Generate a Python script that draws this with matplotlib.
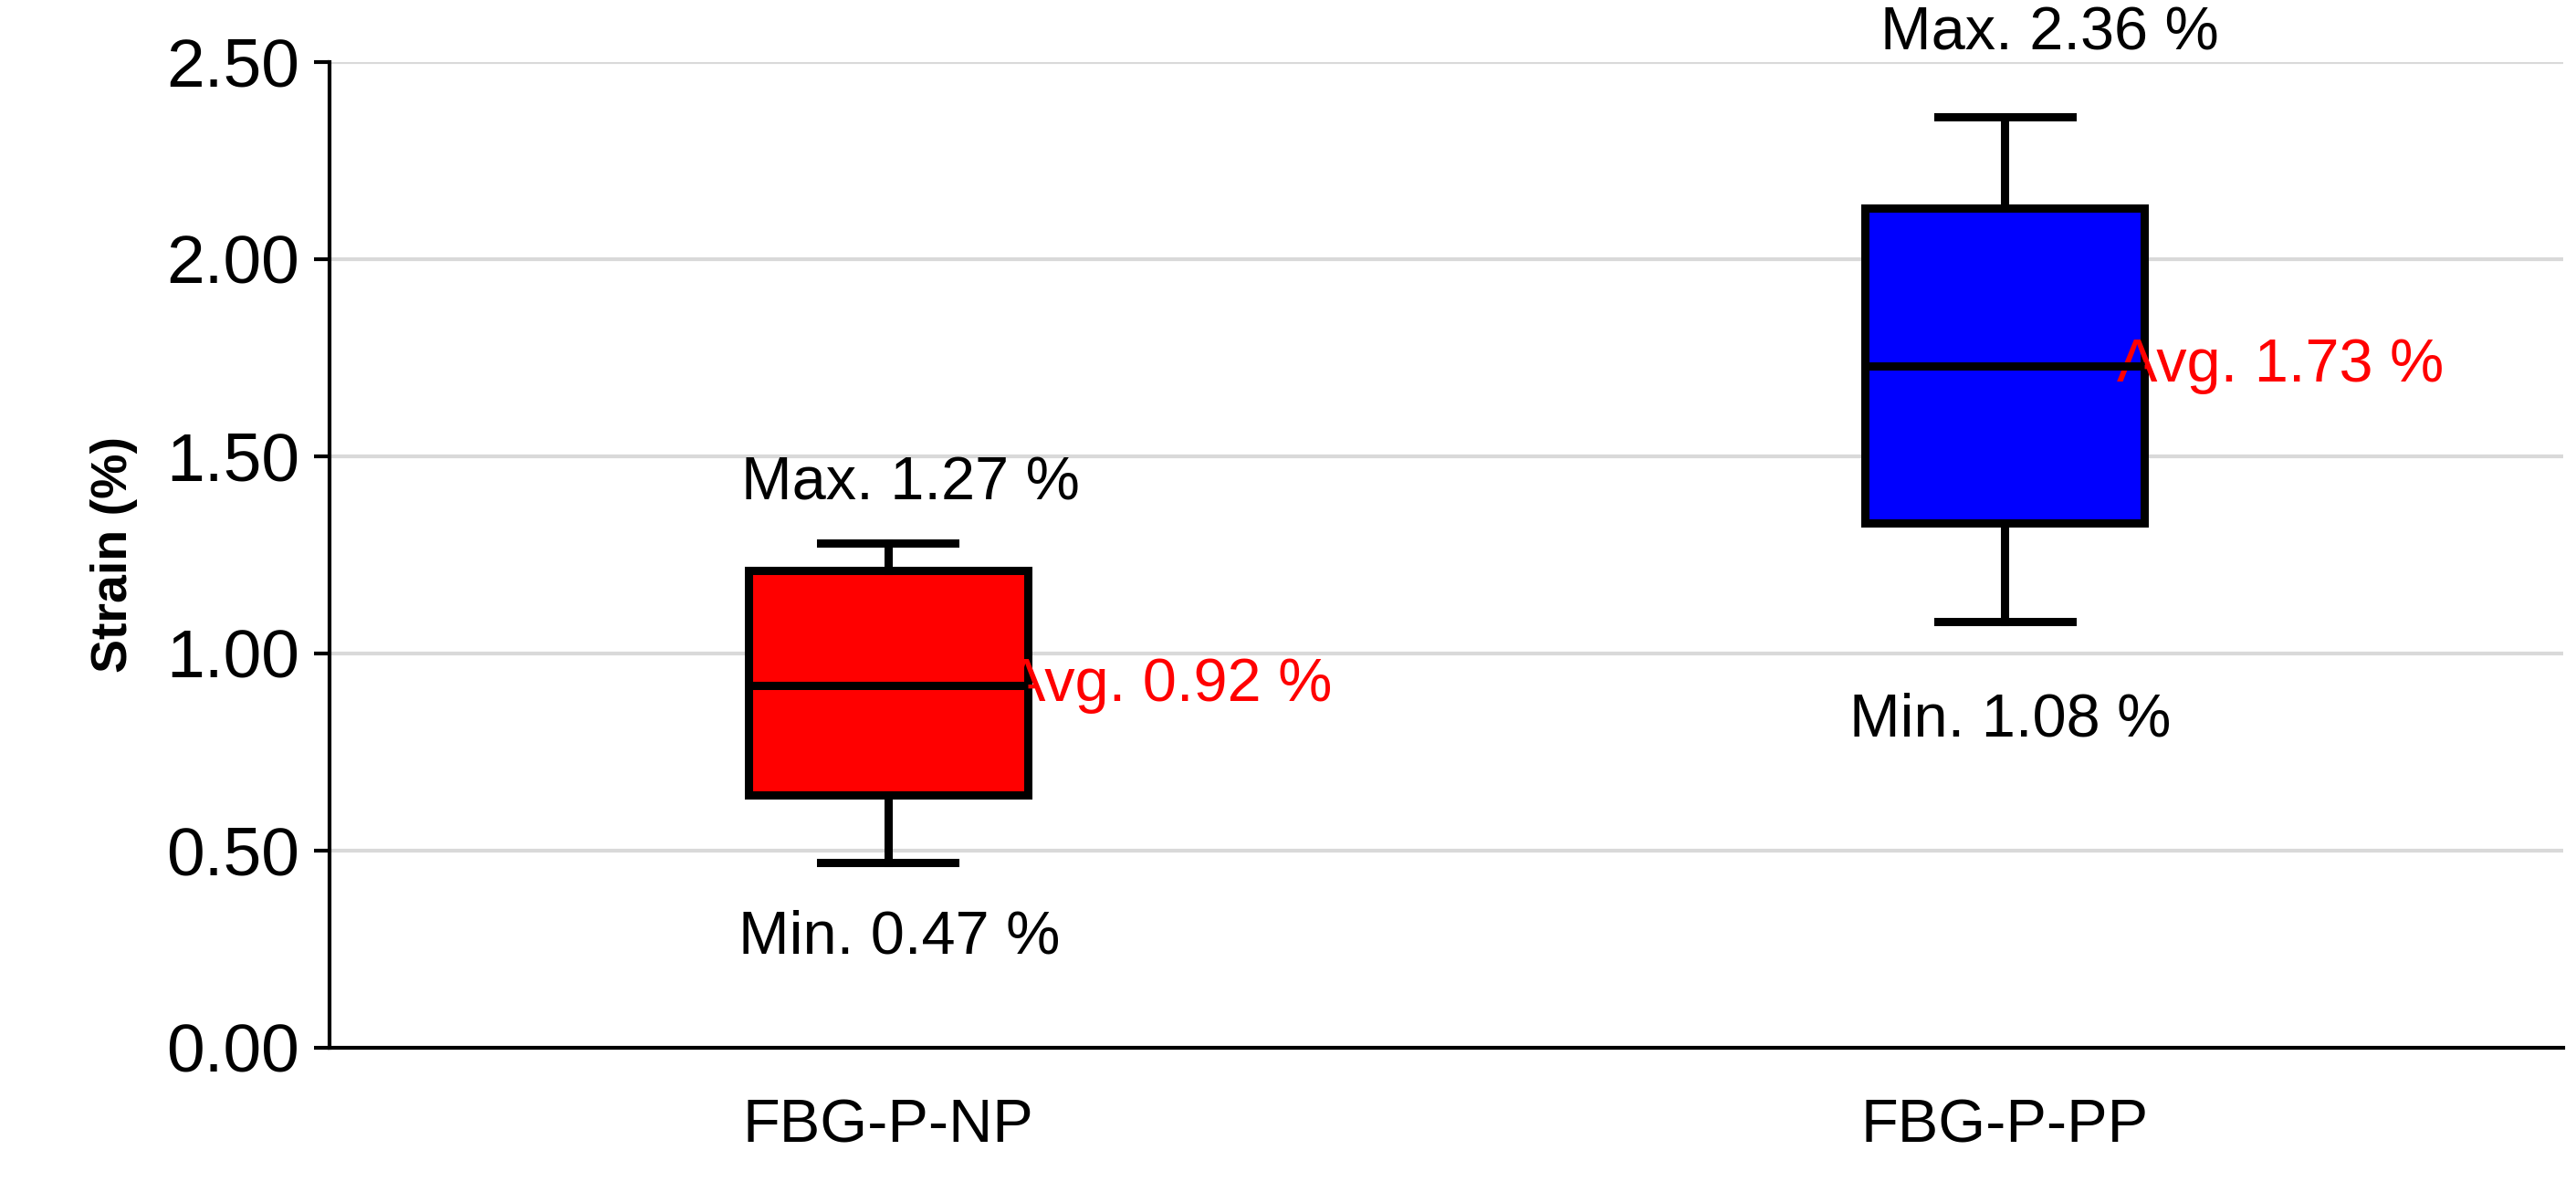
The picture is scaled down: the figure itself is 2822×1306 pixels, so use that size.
import matplotlib.pyplot as plt

categories = ['FBG-P-NP', 'FBG-P-PP']
mins = [0.47, 1.08]
q1s = [0.64, 1.33]
medians = [0.92, 1.73]
q3s = [1.21, 2.13]
maxs = [1.28, 2.36]
max_labels = ['Max. 1.27 %', 'Max. 2.36 %']
min_labels = ['Min. 0.47 %', 'Min. 1.08 %']
avg_labels = ['Avg. 0.92 %', 'Avg. 1.73 %']
colors = ['#ff0000', '#0000ff']

plt.rcParams['font.family'] = ['Liberation Sans', 'DejaVu Sans']

fig = plt.figure(figsize=(28.22, 13.06), dpi=100)
ax = fig.add_axes([0.128, 0.121, 0.867, 0.827])

stats = []
for i in range(2):
    stats.append({'whislo': mins[i], 'q1': q1s[i], 'med': medians[i],
                  'q3': q3s[i], 'whishi': maxs[i], 'fliers': []})
lw = 6.5
bp = ax.bxp(stats, positions=[0, 1], widths=0.25, patch_artist=True,
            showfliers=False, zorder=3,
            boxprops=dict(linewidth=lw, edgecolor='black'),
            whiskerprops=dict(linewidth=lw, color='black'),
            capprops=dict(linewidth=lw, color='black'),
            medianprops=dict(linewidth=lw, color='black'))
for patch, c in zip(bp['boxes'], colors):
    patch.set_facecolor(c)
for cap in bp['caps']:
    x = cap.get_xdata()
    m = (x[0] + x[1]) / 2
    cap.set_xdata([m - 0.06, m + 0.06])

fs = 48
# annotations
ax.text(0.02, 1.43, max_labels[0], ha='center', va='center', fontsize=fs)
ax.text(0.01, 0.28, min_labels[0], ha='center', va='center', fontsize=fs)
ax.text(0.105, 0.92, avg_labels[0], ha='left', va='center', fontsize=fs, color='red')
ax.text(1.04, 2.57, max_labels[1], ha='center', va='center', fontsize=fs, clip_on=False)
ax.text(1.005, 0.83, min_labels[1], ha='center', va='center', fontsize=fs)
ax.text(1.1, 1.73, avg_labels[1], ha='left', va='center', fontsize=fs, color='red')

ax.set_xlim(-0.5, 1.5)
ax.set_ylim(0, 2.5)
ax.set_yticks([0, 0.5, 1.0, 1.5, 2.0, 2.5])
ax.set_yticklabels([f'{v:.2f}' for v in [0, 0.5, 1.0, 1.5, 2.0, 2.5]], fontsize=54)
ax.set_xticks([0, 1])
ax.set_xticklabels(categories, fontsize=48)
ax.tick_params(axis='x', length=0, pad=40)
ax.tick_params(axis='y', length=12, width=3, pad=12)
ax.set_ylabel('Strain (%)', fontsize=40, fontweight='bold', labelpad=22)
ax.yaxis.grid(True, color='#d9d9d9', linewidth=3, zorder=0)
ax.set_axisbelow(True)
for s in ['top', 'right']:
    ax.spines[s].set_visible(False)
for s in ['left', 'bottom']:
    ax.spines[s].set_linewidth(3)

fig.savefig('out.png', dpi=100)
